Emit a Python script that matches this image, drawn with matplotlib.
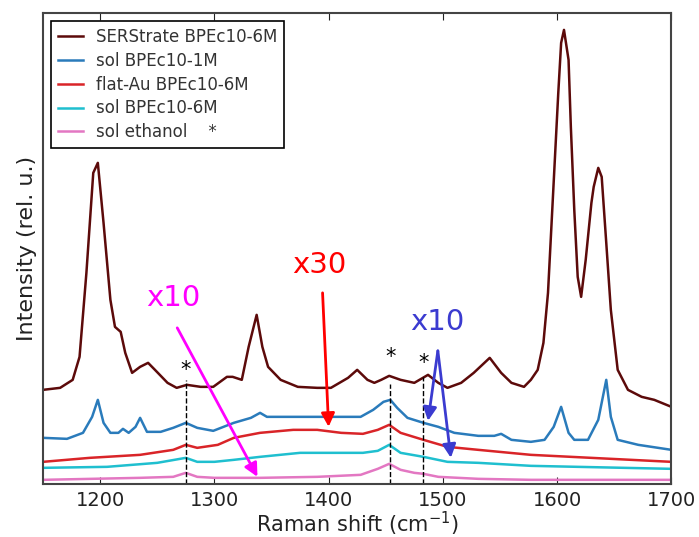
import numpy as np
import matplotlib
matplotlib.use("Agg")
import matplotlib.pyplot as plt

# Spectra (Raman shift in cm^-1, intensity in arbitrary units)
sers_x = [1150, 1165, 1176, 1182, 1188, 1194, 1198, 1203, 1209, 1213, 1218, 1222, 1228,
          1235, 1242, 1248, 1259, 1267, 1276, 1288, 1299, 1311, 1316, 1324, 1330, 1337,
          1342, 1347, 1358, 1373, 1390, 1402, 1417, 1425, 1434, 1440, 1446, 1453, 1463,
          1475, 1487, 1496, 1504, 1516, 1527, 1541, 1551, 1560, 1571, 1577, 1583, 1588,
          1592, 1596.5, 1601, 1603.5, 1606, 1610, 1612, 1615, 1618, 1621, 1625, 1630,
          1632, 1636, 1639, 1643, 1647, 1653, 1662, 1674, 1685, 1700]
sers_y = [94, 96, 104, 127, 211, 311, 321, 261, 184, 157, 152, 131, 111,
          117, 121, 114, 101, 96, 99, 97, 97, 107, 107, 104, 137, 169,
          137, 117, 104, 97, 96, 96, 106, 114, 104, 101, 104, 108, 104,
          101, 109, 101, 96, 101, 111, 126, 111, 101, 97, 104, 114, 141,
          191, 291, 391, 441, 454, 424, 357, 274, 207, 187, 224, 281,
          297, 316, 307, 241, 174, 114, 94, 87, 84, 77]

sol1_x = [1150, 1171, 1185, 1193, 1198, 1203, 1209, 1216, 1220, 1225, 1231, 1235, 1241,
          1253, 1264, 1275, 1285, 1299, 1317, 1332, 1340, 1346, 1364, 1390, 1411, 1428,
          1439, 1448, 1454, 1460, 1469, 1483, 1496, 1510, 1531, 1545, 1551, 1560, 1577,
          1589, 1597, 1603.5, 1610, 1615, 1627, 1636, 1643, 1647, 1653, 1671, 1700]
sol1_y = [46, 45, 51, 67, 84, 61, 51, 51, 55, 51, 57, 66, 52,
          52, 56, 61, 56, 53, 61, 66, 71, 67, 67, 67, 67, 67,
          74, 82, 84, 76, 66, 61, 57, 51, 48, 48, 50, 44, 42,
          44, 57, 77, 51, 44, 44, 64, 104, 67, 44, 39, 34]

flat_x = [1150, 1191, 1235, 1264, 1275, 1285, 1303, 1317, 1340, 1369, 1390, 1411, 1430,
          1443, 1453, 1463, 1483, 1504, 1531, 1577, 1700]
flat_y = [22, 26, 29, 34, 39, 36, 39, 46, 51, 54, 54, 51, 50,
          54, 59, 51, 44, 37, 34, 29, 22]

sol6_x = [1150, 1206, 1250, 1275, 1285, 1300, 1317, 1340, 1375, 1404, 1430, 1443, 1453,
          1463, 1483, 1504, 1531, 1577, 1700]
sol6_y = [16, 17, 21, 26, 22, 22, 24, 27, 31, 31, 31, 33, 39,
          31, 27, 22, 21, 18, 15]

eth_x = [1150, 1235, 1264, 1275, 1285, 1300, 1340, 1390, 1428, 1443, 1453, 1463, 1475,
         1483, 1496, 1531, 1577, 1700]
eth_y = [4, 6, 7, 11, 7, 6, 6, 7, 9, 15, 20, 14, 11,
         10, 7, 5, 4, 4]

# ethanol bands marked with dashed lines and stars
marker_x = [1275, 1454, 1483]
marker_top = [104, 100, 107]
star_y = [114, 127, 121]

fig = plt.figure(figsize=(6.99, 5.37), dpi=100)
ax = fig.add_axes([0.0615, 0.099, 0.899, 0.877])

ax.plot(sers_x, sers_y, color="#5c0a0a", lw=1.8, label="SERStrate BPEc10-6M")
ax.plot(sol1_x, sol1_y, color="#2a7bbb", lw=1.8, label="sol BPEc10-1M")
ax.plot(flat_x, flat_y, color="#d92428", lw=1.8, label="flat-Au BPEc10-6M")
ax.plot(sol6_x, sol6_y, color="#1fbfcf", lw=1.8, label="sol BPEc10-6M")
ax.plot(eth_x, eth_y, color="#e377c2", lw=1.8, label="sol ethanol    *")

for xm, top, ys in zip(marker_x, marker_top, star_y):
    ax.vlines(xm, 0, top, colors="black", linestyles="--", lw=1)
    ax.text(xm, ys, "*", ha="center", va="center", fontsize=15)

arrow = dict(arrowstyle="-|>", lw=2, mutation_scale=20, shrinkA=0, shrinkB=0)
ax.annotate("", xy=(1337.7, 7), xytext=(1267.5, 156),
            arrowprops=dict(arrow, color="#ff00ff"))
ax.text(1264, 186, "x10", color="#ff00ff", fontsize=21, ha="center", va="center")

ax.annotate("", xy=(1400, 57), xytext=(1394.7, 191),
            arrowprops=dict(arrow, color="#ff0000"))
ax.text(1392, 219, "x30", color="#ff0000", fontsize=21, ha="center", va="center")

ax.annotate("", xy=(1487, 63), xytext=(1495.6, 133),
            arrowprops=dict(arrow, color="#3b3bd0"))
ax.annotate("", xy=(1507, 26), xytext=(1495.6, 133),
            arrowprops=dict(arrow, color="#3b3bd0"))
ax.text(1495, 162, "x10", color="#3b3bd0", fontsize=21, ha="center", va="center")

ax.set_xlim(1150, 1700)
ax.set_ylim(0, 471)
ax.set_xticks([1200, 1300, 1400, 1500, 1600, 1700])
ax.set_yticks([])
ax.tick_params(axis="x", direction="in", top=True, length=5, pad=5,
               labelsize=14, colors="#222222")
for s in ax.spines.values():
    s.set_color("#444444")
    s.set_linewidth(1.5)

ax.set_xlabel("Raman shift (cm$^{-1}$)", fontsize=15, color="#222222", labelpad=0)
ax.set_ylabel("Intensity (rel. u.)", fontsize=16, color="#222222")

leg = ax.legend(loc="upper left", fontsize=12, handlelength=1.5, fancybox=False,
                edgecolor="black", framealpha=1, borderaxespad=0.5, labelspacing=0.35)
leg.get_frame().set_linewidth(1.2)
for t in leg.get_texts():
    t.set_color("#333333")

fig.savefig("out.png", dpi=100)
